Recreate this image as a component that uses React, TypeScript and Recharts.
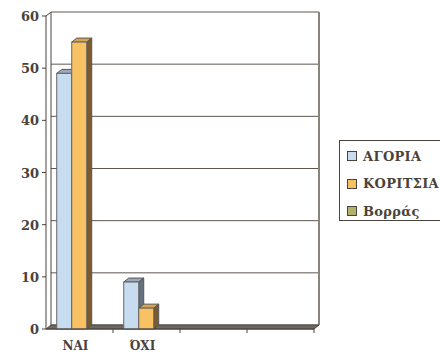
import React from 'react';
import { BarChart, Bar, XAxis, YAxis, CartesianGrid, ReferenceArea } from 'recharts';

const categories = ['ΝΑΙ', 'ΌΧΙ', '', ''];
const boys = [49, 9, 0, 0];
const girls = [55, 4, 0, 0];
const north = [0, 0, 0, 0];
const yTicks = [0, 10, 20, 30, 40, 50, 60];
const seriesNames = ['ΑΓΟΡΙΑ', 'ΚΟΡΙΤΣΙΑ', 'Βορράς'];
const seriesColors = ['#c8dcf0', '#f8c264', '#b3b06c'];

const data = categories.map((c, i) => ({
  key: `c${i}`,
  name: c,
  boys: boys[i],
  girls: girls[i],
  north: north[i],
}));

const DX = 5;
const DY = 4;
const INK = '#4a433c';
const FONT = '"DejaVu Serif", serif';

const make3D = (front: string, top: string, side: string) => (props: any) => {
  const { x, y, width, height } = props;
  if (!height || height <= 0) return <g />;
  const w = width;
  return (
    <g>
      <polygon
        points={`${x},${y} ${x + DX},${y - DY} ${x + w + DX},${y - DY} ${x + w},${y}`}
        fill={top}
        stroke="#555"
        strokeWidth={1}
      />
      <polygon
        points={`${x + w},${y} ${x + w + DX},${y - DY} ${x + w + DX},${y + height - DY} ${x + w},${y + height}`}
        fill={side}
        stroke="#555"
        strokeWidth={1}
      />
      <rect x={x} y={y} width={w} height={height} fill={front} stroke="#666" strokeWidth={1} />
    </g>
  );
};

const Walls = (props: any) => {
  const { x, y, width, height } = props;
  const b = y + height;
  const n = categories.length;
  const marks = [];
  for (let k = 1; k <= n; k++) {
    const mx = x + (k * width) / n;
    marks.push(<line key={k} x1={mx} y1={b} x2={mx} y2={b + 4} stroke={INK} strokeWidth={1} />);
  }
  return (
    <g>
      <line x1={x + DX} y1={y - DY} x2={x + DX} y2={b - DY} stroke={INK} strokeWidth={1} />
      <line x1={x} y1={y} x2={x + DX} y2={y - DY} stroke={INK} strokeWidth={1} />
      <line x1={x + width + DX} y1={y - DY} x2={x + width + DX} y2={b - DY} stroke="#8a847e" strokeWidth={2} />
      <polygon
        points={`${x},${b} ${x + DX},${b - DY} ${x + width + DX},${b - DY} ${x + width},${b}`}
        fill="#6e6862"
        stroke="#4f4943"
        strokeWidth={1}
      />
      {marks}
    </g>
  );
};

const gridLine = (p: any) => (
  <line
    key={`g${p.index}`}
    x1={p.x1 + DX}
    y1={p.y1 - DY}
    x2={p.x2 + DX}
    y2={p.y2 - DY}
    stroke="#5e5750"
    strokeWidth={1}
  />
);

const XTick = (props: any) => {
  const { x, y, payload } = props;
  const idx = data.findIndex((d) => d.key === payload.value);
  const label = idx >= 0 ? data[idx].name : '';
  return (
    <text
      x={x - 4}
      y={y + 13}
      textAnchor="middle"
      fill={INK}
      style={{ fontFamily: FONT, fontWeight: 700, fontSize: 12 }}
    >
      {label}
    </text>
  );
};

const YTick = (props: any) => {
  const { x, y, payload } = props;
  return (
    <text
      x={x}
      y={y + 5}
      textAnchor="end"
      fill={INK}
      style={{ fontFamily: FONT, fontWeight: 700, fontSize: 13 }}
    >
      {payload.value}
    </text>
  );
};

export default function App() {
  return (
    <div style={{ position: 'absolute', left: 0, top: 0, width: 440, height: 354, overflow: 'hidden', background: '#fff' }}>
      <BarChart
        width={440}
        height={354}
        data={data}
        margin={{ top: 16, right: 126, bottom: 0, left: 0 }}
        barCategoryGap="16%"
        barGap={0}
      >
        <CartesianGrid vertical={false} horizontal={gridLine} />
        <ReferenceArea y1={0} y2={60} shape={<Walls />} ifOverflow="visible" />
        <XAxis
          dataKey="key"
          height={25}
          tickLine={false}
          axisLine={{ stroke: INK, strokeWidth: 1 }}
          tick={<XTick />}
          interval={0}
        />
        <YAxis
          width={46}
          domain={[0, 60]}
          ticks={yTicks}
          interval={0}
          tickSize={4}
          tickMargin={3}
          axisLine={{ stroke: INK, strokeWidth: 1 }}
          tickLine={{ stroke: INK }}
          tick={<YTick />}
        />
        <Bar dataKey="boys" name={seriesNames[0]} isAnimationActive={false} shape={make3D(seriesColors[0], '#9aa8ba', '#66717f')} />
        <Bar dataKey="girls" name={seriesNames[1]} isAnimationActive={false} shape={make3D(seriesColors[1], '#d8a450', '#7a5a2e')} />
        <Bar dataKey="north" name={seriesNames[2]} isAnimationActive={false} shape={make3D(seriesColors[2], '#8f8c50', '#5e5c34')} />
      </BarChart>
      <div
        style={{
          position: 'absolute',
          left: 339,
          top: 140,
          width: 130,
          height: 81,
          border: `1px solid ${INK}`,
          background: '#fff',
          boxSizing: 'border-box',
        }}
      >
        {seriesNames.map((n, i) => (
          <div
            key={n}
            style={{
              position: 'absolute',
              left: 7,
              top: 6 + i * 27.5,
              height: 18,
              display: 'flex',
              alignItems: 'center',
              whiteSpace: 'nowrap',
            }}
          >
            <span
              style={{
                display: 'inline-block',
                width: 8,
                height: 8,
                background: seriesColors[i],
                border: `1px solid ${INK}`,
                marginRight: 6,
              }}
            />
            <span
              style={{
                fontFamily: FONT,
                fontWeight: 700,
                fontSize: 13,
                letterSpacing: 0.3,
                color: INK,
              }}
            >
              {n}
            </span>
          </div>
        ))}
      </div>
    </div>
  );
}
